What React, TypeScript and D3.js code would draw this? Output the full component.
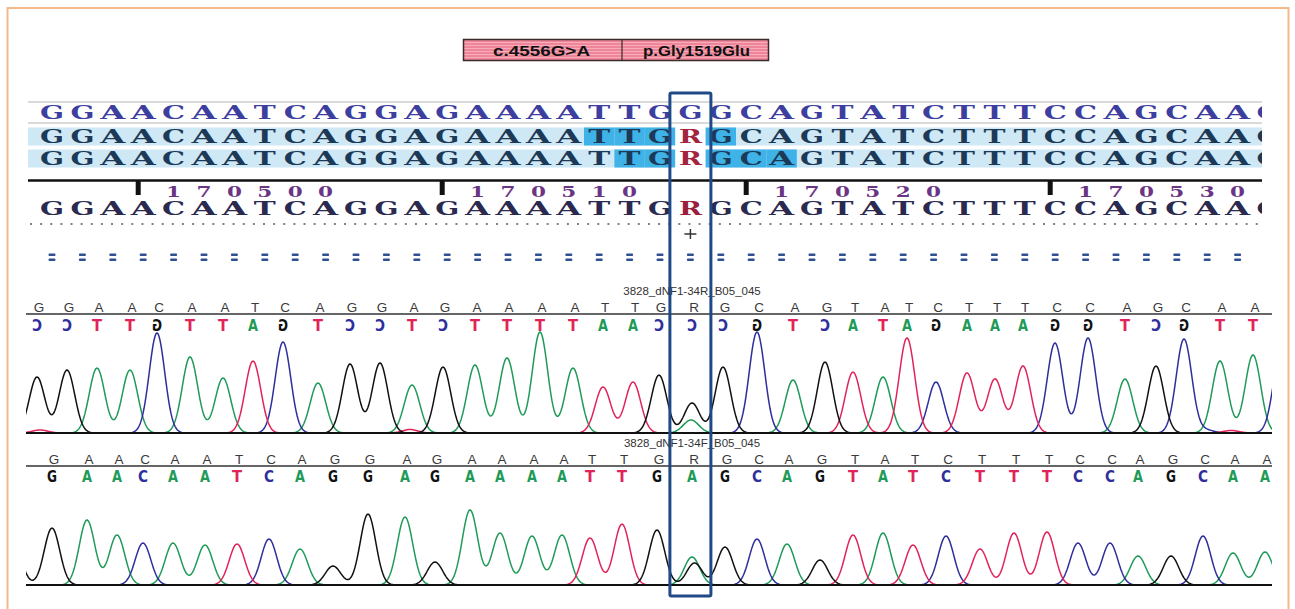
import * as d3 from 'd3';

const W = 1295;
const H = 609;

// alignment rows (top panel)
const refRow = 'GGAACAATCAGGAGAAAATTGGGCAGTATCTTTCCAGCAAC';
const sampleRow = 'GGAACAATCAGGAGAAAATTGRGCAGTATCTTTCCAGCAAC';
const firstPos = 170497;
const variantIndex = 21;
const row2Hits = [18, 19, 20, 22];
const row3Hits = [19, 20, 22, 23, 24];
const mutationLabels = ['c.4556G>A', 'p.Gly1519Glu'];

// reverse read chromatogram
const revTitle = '3828_dNF1-34R_B05_045';
const revCalls = 'GGAACAATCAGGAGAAAATTGRGCAGTATCTTTCCAGCAA';
const revComplement = 'CCTTGTTAGTCCTCTTTTAACCCGTCATAGAAAGGTCGTT';
const revTraceBases = 'GGAACAATCAGGAGAAAATTGGGCAGTATCTTTCCAGCAAC';
const revPeakScan = [4.4, 16.4, 28.4, 41.6, 52.4, 65.6, 78.8, 90.8, 102.8, 116.8, 129.6, 141.6, 154.4, 166.8, 179.6, 192.4, 205.6, 218.8, 230.8, 242.8, 253.2, 266.4, 278.8, 292.4, 306.8, 319.6, 330.8, 342.8, 352.4, 364, 376.4, 387.6, 398.8, 411.6, 424.8, 439.6, 452, 463.2, 477.6, 490.8, 502];
const revPeakHeight = [560, 630, 650, 630, 1000, 760, 550, 720, 910, 500, 690, 700, 480, 660, 680, 750, 1010, 650, 460, 510, 580, 300, 660, 1010, 530, 710, 610, 560, 950, 510, 600, 540, 670, 900, 950, 540, 670, 940, 720, 780, 800];
const revExtra = [
  { base: 'A', scan: 266, height: 130 },
  { base: 'T', scan: 5.6, height: 30 },
  { base: 'T', scan: 153.6, height: 35 },
  { base: 'C', scan: 472, height: 30 },
  { base: 'T', scan: 482, height: 25 },
];

// forward read chromatogram
const fwdTitle = '3828_dNF1-34F_B05_045';
const fwdCalls = 'GGAACAATCAGGAGAAAATTGRGCAGTATCTTTCCAGCAA';
const fwdBold = 'GGAACAATCAGGAGAAAATTGAGCAGTATCTTTCCAGCAA';
const fwdPeakScan = [-4.8, 10.4, 24.4, 36.4, 46.8, 58.8, 71.6, 84.4, 97.2, 109.6, 122.8, 136.8, 151.6, 163.6, 177.6, 189.6, 202.4, 214.4, 225.6, 238.4, 252.4, 266.4, 279.6, 292.4, 304.4, 317.6, 330.8, 342.8, 354.8, 368, 381.6, 395.2, 408.4, 420.8, 433.6, 444.8, 458, 470.8, 482.8, 495.6];
const fwdPeakHeight = [400, 570, 650, 500, 420, 420, 400, 410, 460, 360, 190, 710, 680, 230, 750, 520, 490, 500, 470, 610, 550, 280, 380, 460, 410, 250, 500, 520, 400, 490, 360, 520, 530, 420, 420, 290, 290, 490, 320, 330];
const fwdExtra = [{ base: 'G', scan: 267.4, height: 220 }];

const baseColor: Record<string, string> = { G: '#111111', A: '#1f9a58', C: '#2e2e9c', T: '#e0245a' };
const SIGMA = 3.1;

const seqX = d3.scaleLinear().domain([0, 39]).range([52, 1237.6]);
const traceX = d3.scaleLinear().domain([0, 498.4]).range([26, 1272]);
const revY = d3.scaleLinear().domain([0, 1200]).range([433, 313]);
const fwdY = d3.scaleLinear().domain([0, 1200]).range([585, 465]);
const samples = d3.range(-6, 506, 0.4);

type Peak = { base: string; scan: number; height: number };

function buildPeaks(bases: string, scans: number[], heights: number[], extra: Peak[]): Peak[] {
  const list = scans.map((s, i) => ({ base: bases[i], scan: s, height: heights[i] }));
  return list.concat(extra);
}

function channelPath(peaks: Peak[], base: string, y: d3.ScaleLinear<number, number>) {
  const own = peaks.filter((p) => p.base === base);
  const pts: [number, number][] = samples.map((s) => [
    s,
    d3.sum(own, (p) => p.height * Math.exp(-((s - p.scan) ** 2) / (2 * SIGMA * SIGMA))),
  ]);
  return d3.line<[number, number]>().x((d) => traceX(d[0])).y((d) => y(d[1]))(pts) ?? '';
}

const letterW: Record<string, number> = { G: 24, A: 25, C: 23, T: 22, R: 23 };

function Glyph({ x, y, ch, w, size, family, fill, mirror = false }: any) {
  const t = mirror ? `translate(${x},${y}) scale(-1,1)` : `translate(${x},${y})`;
  return (
    <text transform={t} x={-w / 2} y={0} textLength={w} lengthAdjust="spacingAndGlyphs"
      fontSize={size} fontFamily={family} fontWeight={700} fill={fill}>{ch}</text>
  );
}

const SERIF = 'DejaVu Serif, serif';
const SANS = 'Liberation Sans, Arial, sans-serif';
const BOLD = 'DejaVu Sans, sans-serif';

function SeqRow({ seq, y, color, rColor }: { seq: string; y: number; color: string; rColor: string }) {
  return (
    <g>
      {seq.split('').map((ch, i) => (
        <Glyph key={i} x={seqX(i)} y={y} ch={ch} w={letterW[ch]} size={18} family={SERIF}
          fill={ch === 'R' ? rColor : color} />
      ))}
    </g>
  );
}

function Chromatogram({ title, peaks, y, thin, thinStart, bold, boldMirror, boldColorSeq, scans, top, base, thinY, boldY, titleY }: any) {
  const clipId = `clip-${top}`;
  return (
    <g>
      <defs>
        <clipPath id={clipId}>
          <rect x={26} y={top - 20} width={1246} height={base - top + 22} />
        </clipPath>
      </defs>
      <text x={692} y={titleY} textAnchor="middle" fontSize={11.5} fontFamily={SANS} fill="#333">{title}</text>
      <line x1={26} x2={1272} y1={top} y2={top} stroke="#333" strokeWidth={1.5} />
      {thin.split('').map((ch: string, i: number) => (
        <text key={i} x={traceX(scans[i + thinStart] + 0.8)} y={thinY} textAnchor="middle" fontSize={13.5}
          fontFamily={SANS} fill="#3a3a3a">{ch}</text>
      ))}
      {bold.split('').map((ch: string, i: number) => (
        <Glyph key={i} x={traceX(scans[i + thinStart])} y={boldY} ch={ch} w={10} size={16} family={BOLD}
          fill={baseColor[boldColorSeq[i]]} mirror={boldMirror} />
      ))}
      <g clipPath={`url(#${clipId})`} fill="none" strokeWidth={1.5}>
        {['A', 'C', 'T', 'G'].map((b) => (
          <path key={b} d={channelPath(peaks, b, y)} stroke={baseColor[b]} />
        ))}
      </g>
      <line x1={26} x2={1272} y1={base} y2={base} stroke="#111" strokeWidth={2.2} />
    </g>
  );
}

export default function App() {
  const revPeaks = buildPeaks(revTraceBases, revPeakScan, revPeakHeight, revExtra);
  const fwdPeaks = buildPeaks(fwdBold, fwdPeakScan, fwdPeakHeight, fwdExtra);
  const boxCx = seqX(variantIndex);
  const boxL = boxCx - 20.5;
  const boxR = boxCx + 20.5;
  const ticks = d3.range(0, 41).filter((i) => (firstPos + i) % 10 === 0);

  const rowBg = (y: number, hits: number[], key: string) => (
    <g key={key}>
      <rect x={28} y={y} width={boxL - 28} height={18} fill="#cfe8f6" />
      <rect x={boxR} y={y} width={1262 - boxR} height={18} fill="#cfe8f6" />
      {hits.map((i) => (
        <rect key={i} x={seqX(i) - 15.2} y={y} width={30.4} height={18} fill="#3fb2e7" />
      ))}
    </g>
  );

  return (
    <div style={{ position: 'absolute', left: 0, top: 0 }}>
      <svg width={W} height={H} style={{ display: 'block', background: '#fff' }}>
        <defs>
          <pattern id="stripes" width={4} height={3} patternUnits="userSpaceOnUse">
            <rect width={4} height={3} fill="#ef8599" />
            <rect width={4} height={1} fill="#f6acba" />
          </pattern>
          <clipPath id="seqClip">
            <rect x={28} y={95} width={1234} height={130} />
          </clipPath>
        </defs>

        <rect x={7.5} y={8} width={1281} height={640} fill="none" stroke="#f2b98a" strokeWidth={2} />

        {/* mutation header */}
        <rect x={463.5} y={39.5} width={305} height={21} fill="url(#stripes)" stroke="#3a2a2a" strokeWidth={1.5} />
        <line x1={622} x2={622} y1={39.5} y2={60.5} stroke="#3a2a2a" strokeWidth={1.2} />
        <text x={493} y={56} textLength={97} lengthAdjust="spacingAndGlyphs" fontSize={15}
          fontFamily={SANS} fontWeight={700} fill="#111">{mutationLabels[0]}</text>
        <text x={643} y={56} textLength={107} lengthAdjust="spacingAndGlyphs" fontSize={15}
          fontFamily={SANS} fontWeight={700} fill="#111">{mutationLabels[1]}</text>

        {/* alignment panel */}
        <line x1={28} x2={1262} y1={102} y2={102} stroke="#b4b4b4" strokeWidth={1} />
        <line x1={28} x2={1262} y1={123} y2={123} stroke="#b4b4b4" strokeWidth={1} />
        {rowBg(127.5, row2Hits, 'r2')}
        {rowBg(149.5, row3Hits, 'r3')}
        <g clipPath="url(#seqClip)">
          <SeqRow seq={refRow} y={119} color="#3d3f9f" rColor="#3d3f9f" />
          <SeqRow seq={sampleRow} y={143} color="#1c3a58" rColor="#a3243f" />
          <SeqRow seq={sampleRow} y={165} color="#1c3a58" rColor="#a3243f" />
          <SeqRow seq={sampleRow} y={215} color="#2a2950" rColor="#9a1f3c" />
        </g>

        {/* ruler */}
        <line x1={28} x2={1262} y1={180.5} y2={180.5} stroke="#111" strokeWidth={2.6} />
        {ticks.map((i) => (
          <g key={i}>
            <rect x={seqX(i) - 7.5} y={181} width={5} height={14} fill="#111" />
            {String(firstPos + i).split('').map((dg, k) => (
              <Glyph key={k} x={seqX(i + 1 + k)} y={197} ch={dg} w={15} size={14} family={SERIF} fill="#6b3585" />
            ))}
          </g>
        ))}

        <line x1={30} x2={1262} y1={224} y2={224} stroke="#555" strokeWidth={1.6} strokeDasharray="2 8.13" />
        <g stroke="#333" strokeWidth={1.5}>
          <line x1={boxCx - 6} x2={boxCx + 6} y1={234} y2={234} />
          <line x1={boxCx} x2={boxCx} y1={229} y2={239} />
        </g>
        {d3.range(0, 40).map((i) => (
          <g key={i} fill="#2f4f8f">
            <rect x={seqX(i) - 3.5} y={253.5} width={7} height={2.4} rx={1} />
            <rect x={seqX(i) - 3.5} y={258.5} width={7} height={2.4} rx={1} />
          </g>
        ))}

        <Chromatogram title={revTitle} peaks={revPeaks} y={revY} thin={revCalls} thinStart={0}
          bold={revComplement} boldMirror={true} boldColorSeq={revComplement} scans={revPeakScan}
          top={314} base={433} thinY={312} boldY={331} titleY={295} />
        <Chromatogram title={fwdTitle} peaks={fwdPeaks} y={fwdY} thin={fwdCalls.slice(1)} thinStart={1}
          bold={fwdBold.slice(1)} boldMirror={false} boldColorSeq={fwdBold.slice(1)} scans={fwdPeakScan}
          top={466} base={585} thinY={464} boldY={482} titleY={447} />

        {/* highlight box around the variant */}
        <rect x={boxL} y={93} width={41} height={503} fill="none" stroke="#1f4a86" strokeWidth={3} rx={1.5} />
      </svg>
    </div>
  );
}
